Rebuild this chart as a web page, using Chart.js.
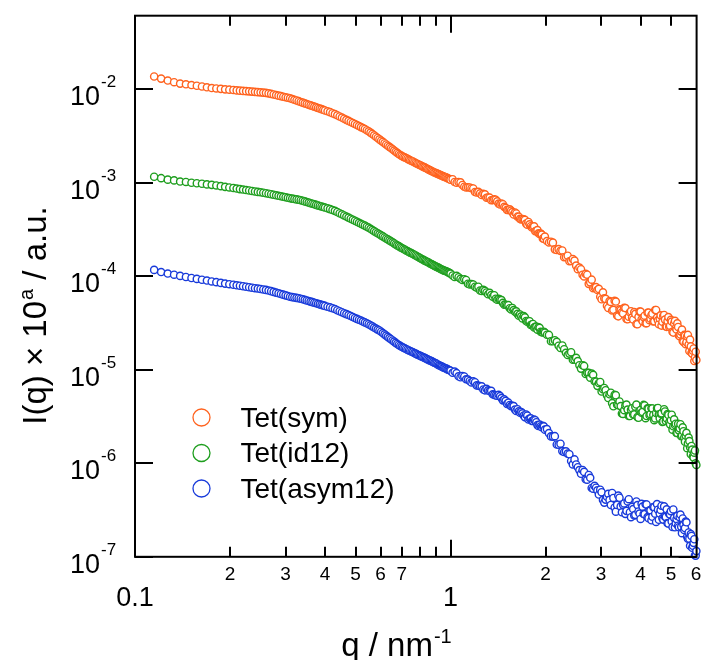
<!DOCTYPE html>
<html><head><meta charset="utf-8">
<style>html,body{margin:0;padding:0;background:#fff}canvas{display:block}</style>
<script src="https://cdn.jsdelivr.net/npm/chart.js@4.4.0/dist/chart.umd.min.js"></script>
</head><body><canvas id="c" width="702" height="660"></canvas>
<script>
// q / nm^-1 (main grid)
const q = [0.115,0.121,0.127,0.133,0.139,0.145,0.151,0.157,0.163,0.169,0.175,0.181,0.187,0.193,0.199,
0.21,0.22,0.23,0.24,0.25,0.26,0.27,0.28,0.29,0.30,0.31,0.32,0.33,0.34,0.35,0.36,0.37,0.38,0.39,0.40,
0.415,0.43,0.445,0.46,0.475,0.49,0.505,0.52,0.535,0.55,0.565,0.58,0.595,0.61,0.625,0.64,0.655,0.67,0.685,0.70,0.715,0.73,0.745,0.76,0.775,0.79,0.805,0.82,0.835,0.85,0.865,0.88,0.895,0.91,0.925,0.94,0.955,0.97,0.985,1.00,
1.03,1.06,1.09,1.12,1.15,1.18,1.21,1.24,1.27,1.30,1.33,1.36,1.39,1.42,1.45,1.48,1.51,1.54,1.57,1.60,1.63,1.66,1.69,1.72,1.75,1.78,1.81,1.84,1.87,1.90,1.93,1.96,1.99,
2.05,2.11,2.17,2.23,2.29,2.35,2.41,2.47,2.53,2.59,2.65,2.71,2.77,2.83,2.89,2.95,3.01,3.07,3.13,3.19,3.25,3.31,3.37,3.43,3.49,3.55,3.61,3.67,3.73,3.79,3.85,3.91,3.97,4.03,4.09,4.15,4.21,4.27,4.33,4.39,4.45,4.51,4.57,4.63,4.69,4.75,4.81,4.87,4.93,4.99,5.05,5.11,5.17,5.23,5.29,5.35,5.41,5.47,5.53,5.59,5.65,5.71,5.77,5.83,5.89,5.95,6.01];

const tetSym = [1.37e-2,1.30e-2,1.24e-2,1.19e-2,1.15e-2,1.13e-2,1.11e-2,1.09e-2,1.07e-2,1.05e-2,1.03e-2,1.02e-2,1.01e-2,9.98e-3,9.90e-3,
9.73e-3,9.61e-3,9.50e-3,9.38e-3,9.27e-3,9.15e-3,8.93e-3,8.67e-3,8.44e-3,8.21e-3,8.01e-3,7.72e-3,7.46e-3,7.19e-3,6.95e-3,6.73e-3,6.52e-3,6.31e-3,6.13e-3,5.93e-3,
5.69e-3,5.42e-3,5.12e-3,4.84e-3,4.59e-3,4.36e-3,4.14e-3,3.94e-3,3.76e-3,3.55e-3,3.33e-3,3.11e-3,2.91e-3,2.74e-3,2.57e-3,2.42e-3,2.28e-3,2.15e-3,2.03e-3,1.94e-3,1.87e-3,1.81e-3,1.74e-3,1.69e-3,1.63e-3,1.58e-3,1.53e-3,1.48e-3,1.44e-3,1.39e-3,1.35e-3,1.31e-3,1.28e-3,1.25e-3,1.22e-3,1.19e-3,1.16e-3,1.14e-3,1.11e-3,1.08e-3,
1.02e-3,1.02e-3,9.47e-4,8.91e-4,8.91e-4,8.69e-4,7.89e-4,7.70e-4,7.61e-4,6.91e-4,6.93e-4,6.53e-4,6.58e-4,5.99e-4,5.98e-4,5.52e-4,5.13e-4,5.19e-4,4.85e-4,4.80e-4,4.34e-4,4.11e-4,4.10e-4,4.02e-4,3.56e-4,3.59e-4,3.33e-4,3.42e-4,3.07e-4,2.88e-4,2.86e-4,2.54e-4,2.66e-4,
2.30e-4,2.29e-4,1.91e-4,1.87e-4,1.60e-4,1.66e-4,1.46e-4,1.47e-4,1.19e-4,1.19e-4,9.97e-5,1.04e-4,8.61e-5,7.46e-5,7.65e-5,7.33e-5,5.68e-5,5.80e-5,4.84e-5,5.43e-5,4.31e-5,5.47e-5,3.80e-5,4.43e-5,4.12e-5,4.60e-5,3.50e-5,3.69e-5,4.23e-5,3.45e-5,3.96e-5,3.07e-5,4.19e-5,3.47e-5,3.66e-5,3.14e-5,4.08e-5,3.39e-5,3.84e-5,3.29e-5,4.35e-5,3.61e-5,3.07e-5,3.82e-5,3.26e-5,3.86e-5,2.91e-5,3.33e-5,2.89e-5,3.42e-5,2.55e-5,3.13e-5,2.80e-5,3.14e-5,2.33e-5,2.39e-5,2.69e-5,1.99e-5,2.32e-5,1.97e-5,2.36e-5,1.59e-5,1.78e-5,1.49e-5,1.69e-5,1.36e-5,1.27e-5];

const tetId12 = [1.16e-3,1.12e-3,1.08e-3,1.06e-3,1.03e-3,1.02e-3,1.00e-3,9.88e-4,9.76e-4,9.61e-4,9.50e-4,9.36e-4,9.20e-4,9.04e-4,8.91e-4,
8.67e-4,8.46e-4,8.27e-4,8.07e-4,7.91e-4,7.74e-4,7.55e-4,7.35e-4,7.17e-4,7.00e-4,6.83e-4,6.71e-4,6.58e-4,6.42e-4,6.23e-4,6.05e-4,5.89e-4,5.72e-4,5.58e-4,5.43e-4,
5.23e-4,5.01e-4,4.73e-4,4.47e-4,4.24e-4,4.03e-4,3.83e-4,3.64e-4,3.48e-4,3.31e-4,3.13e-4,2.96e-4,2.81e-4,2.67e-4,2.54e-4,2.42e-4,2.31e-4,2.19e-4,2.10e-4,2.01e-4,1.93e-4,1.86e-4,1.79e-4,1.73e-4,1.67e-4,1.61e-4,1.55e-4,1.50e-4,1.45e-4,1.41e-4,1.36e-4,1.32e-4,1.28e-4,1.25e-4,1.21e-4,1.18e-4,1.15e-4,1.13e-4,1.10e-4,1.07e-4,
9.83e-5,9.76e-5,9.13e-5,9.13e-5,8.19e-5,8.17e-5,7.57e-5,7.05e-5,7.15e-5,6.71e-5,6.66e-5,6.05e-5,5.75e-5,5.73e-5,5.57e-5,4.97e-5,4.90e-5,4.55e-5,4.58e-5,4.18e-5,3.96e-5,3.90e-5,3.54e-5,3.64e-5,3.27e-5,3.31e-5,3.04e-5,2.83e-5,2.90e-5,2.85e-5,2.55e-5,2.51e-5,2.50e-5,
2.36e-5,2.02e-5,1.99e-5,1.71e-5,1.66e-5,1.44e-5,1.54e-5,1.29e-5,1.24e-5,1.03e-5,1.10e-5,9.27e-6,8.23e-6,8.84e-6,7.48e-6,7.22e-6,5.86e-6,6.39e-6,5.34e-6,5.47e-6,4.40e-6,5.39e-6,4.22e-6,4.58e-6,3.41e-6,3.70e-6,4.25e-6,3.20e-6,3.74e-6,3.33e-6,4.03e-6,3.12e-6,3.65e-6,3.48e-6,4.21e-6,3.04e-6,3.87e-6,3.26e-6,3.88e-6,3.29e-6,3.02e-6,3.87e-6,3.32e-6,3.39e-6,2.77e-6,3.79e-6,2.84e-6,3.36e-6,2.76e-6,2.89e-6,2.29e-6,2.95e-6,2.65e-6,2.11e-6,2.25e-6,2.62e-6,1.98e-6,2.20e-6,1.70e-6,2.12e-6,1.64e-6,1.73e-6,1.25e-6,1.40e-6,1.15e-6,1.37e-6,9.6e-7];

const tetAsym12 = [1.17e-4,1.11e-4,1.07e-4,1.04e-4,1.01e-4,9.83e-5,9.59e-5,9.38e-5,9.18e-5,9.00e-5,8.80e-5,8.65e-5,8.50e-5,8.35e-5,8.23e-5,
8.01e-5,7.82e-5,7.63e-5,7.46e-5,7.31e-5,7.15e-5,6.93e-5,6.69e-5,6.47e-5,6.25e-5,6.05e-5,5.93e-5,5.82e-5,5.68e-5,5.51e-5,5.36e-5,5.22e-5,5.08e-5,4.94e-5,4.82e-5,
4.65e-5,4.46e-5,4.23e-5,4.03e-5,3.85e-5,3.67e-5,3.50e-5,3.36e-5,3.21e-5,3.07e-5,2.91e-5,2.76e-5,2.63e-5,2.47e-5,2.32e-5,2.18e-5,2.06e-5,1.94e-5,1.84e-5,1.76e-5,1.70e-5,1.64e-5,1.59e-5,1.54e-5,1.49e-5,1.44e-5,1.40e-5,1.36e-5,1.32e-5,1.28e-5,1.25e-5,1.21e-5,1.18e-5,1.14e-5,1.11e-5,1.08e-5,1.05e-5,1.03e-5,1.00e-5,9.76e-6,
9.57e-6,8.52e-6,8.58e-6,7.91e-6,7.59e-6,7.53e-6,6.81e-6,6.68e-6,6.16e-6,6.26e-6,5.92e-6,5.47e-6,5.31e-6,5.40e-6,4.98e-6,4.82e-6,4.32e-6,4.20e-6,4.12e-6,3.75e-6,3.79e-6,3.48e-6,3.42e-6,3.12e-6,3.24e-6,3.01e-6,2.83e-6,2.93e-6,2.75e-6,2.51e-6,2.49e-6,2.51e-6,2.29e-6,
2.10e-6,1.93e-6,1.59e-6,1.62e-6,1.32e-6,1.27e-6,1.06e-6,1.10e-6,9.08e-7,7.72e-7,8.09e-7,6.68e-7,7.00e-7,5.35e-7,5.48e-7,4.63e-7,4.90e-7,3.80e-7,4.39e-7,4.06e-7,4.82e-7,3.37e-7,3.59e-7,4.28e-7,2.99e-7,3.72e-7,3.10e-7,4.13e-7,2.65e-7,3.24e-7,2.81e-7,3.57e-7,2.90e-7,3.69e-7,2.87e-7,3.64e-7,2.66e-7,3.15e-7,2.46e-7,3.40e-7,2.89e-7,3.66e-7,2.49e-7,3.17e-7,2.58e-7,3.46e-7,2.67e-7,2.29e-7,2.87e-7,3.08e-7,2.08e-7,2.61e-7,2.29e-7,2.74e-7,2.07e-7,2.83e-7,1.79e-7,2.20e-7,2.03e-7,2.34e-7,1.56e-7,1.56e-7,1.75e-7,1.25e-7,1.41e-7,1.04e-7,1.15e-7];

const qMid = [0.205,0.215,0.225,0.235,0.245,0.255,0.265,0.275,0.285,0.295,0.305,0.315,0.325,0.335,0.345,0.355,0.365,0.375,0.385,0.395,
0.4075,0.4225,0.4375,0.4525,0.4675,0.4825,0.4975,0.5125,0.5275,0.5425,0.5575,0.5725,0.5875,0.6025,0.6175,0.6325,0.6475,0.6625,0.6775,0.6925,0.7075,0.7225,0.7375,0.7525,0.7675,0.7825,0.7975,0.8125,0.8275,0.8425,0.8575,0.8725,0.8875,0.9025,0.9175,0.9325,0.9475,0.9625,0.9775,0.9925,
1.015,1.045,1.075,1.105,1.135,1.165,1.195,1.225,1.255,1.285,1.315,1.345,1.375,1.405,1.435,1.465,1.495,1.525,1.555,1.585,1.615,1.645,1.675,1.705,1.735,1.765,1.795,1.825,1.855,1.885,1.915,1.945,1.975,
2.02,2.08,2.14,2.20,2.26,2.32,2.38,2.44,2.50,2.56,2.62,2.68,2.74,2.80,2.86,2.92,2.98,3.04,3.10,3.16,3.22,3.28,3.34,3.40,3.46,3.52,3.58,3.64,3.70,3.76,3.82,3.88,3.94,4.00,4.06,4.12,4.18,4.24,4.30,4.36,4.42,4.48,4.54,4.60,4.66,4.72,4.78,4.84,4.90,4.96,5.02,5.08,5.14,5.20,5.26,5.32,5.38,5.44,5.50,5.56,5.62,5.68,5.74,5.80,5.86,5.92,5.98];

const tetSymMid = [9.82e-3,9.67e-3,9.55e-3,9.44e-3,9.32e-3,9.21e-3,9.04e-3,8.80e-3,8.55e-3,8.32e-3,8.11e-3,7.86e-3,7.59e-3,7.32e-3,7.07e-3,6.84e-3,6.62e-3,6.41e-3,6.22e-3,6.03e-3,
5.81e-3,5.55e-3,5.27e-3,4.98e-3,4.71e-3,4.47e-3,4.25e-3,4.04e-3,3.85e-3,3.65e-3,3.44e-3,3.22e-3,3.01e-3,2.82e-3,2.65e-3,2.49e-3,2.35e-3,2.21e-3,2.09e-3,1.98e-3,1.90e-3,1.84e-3,1.77e-3,1.71e-3,1.66e-3,1.60e-3,1.55e-3,1.50e-3,1.46e-3,1.41e-3,1.37e-3,1.33e-3,1.29e-3,1.26e-3,1.23e-3,1.20e-3,1.17e-3,1.15e-3,1.12e-3,1.09e-3,
1.09e-3,1.00e-3,1.01e-3,9.08e-4,8.94e-4,8.75e-4,7.97e-4,7.99e-4,7.41e-4,7.53e-4,6.96e-4,6.51e-4,6.65e-4,6.32e-4,5.86e-4,5.90e-4,5.40e-4,5.11e-4,5.04e-4,4.58e-4,4.70e-4,4.33e-4,4.06e-4,4.07e-4,3.66e-4,3.81e-4,3.43e-4,3.37e-4,3.03e-4,3.12e-4,2.83e-4,2.79e-4,2.52e-4,
2.38e-4,2.34e-4,1.94e-4,1.95e-4,1.89e-4,1.61e-4,1.45e-4,1.53e-4,1.30e-4,1.24e-4,1.04e-4,1.06e-4,8.30e-5,9.20e-5,7.59e-5,7.13e-5,6.05e-5,6.74e-5,5.73e-5,4.58e-5,5.32e-5,4.38e-5,5.37e-5,3.73e-5,4.35e-5,4.00e-5,4.57e-5,3.47e-5,4.13e-5,3.60e-5,4.14e-5,3.09e-5,3.68e-5,4.19e-5,3.30e-5,3.79e-5,3.15e-5,4.09e-5,3.52e-5,3.98e-5,3.30e-5,4.36e-5,3.38e-5,3.54e-5,2.97e-5,3.77e-5,3.44e-5,2.88e-5,3.66e-5,2.96e-5,3.28e-5,2.50e-5,3.34e-5,2.70e-5,2.87e-5,2.28e-5,2.56e-5,2.03e-5,2.36e-5,1.88e-5,2.27e-5,1.86e-5,2.10e-5,1.52e-5,1.60e-5,1.24e-5,1.56e-5];

const tetId12Mid = [8.79e-4,8.56e-4,8.36e-4,8.17e-4,7.99e-4,7.82e-4,7.64e-4,7.45e-4,7.26e-4,7.08e-4,6.91e-4,6.77e-4,6.64e-4,6.50e-4,6.32e-4,6.14e-4,5.97e-4,5.80e-4,5.65e-4,5.50e-4,
5.33e-4,5.12e-4,4.87e-4,4.60e-4,4.35e-4,4.13e-4,3.93e-4,3.73e-4,3.56e-4,3.39e-4,3.22e-4,3.04e-4,2.88e-4,2.74e-4,2.60e-4,2.48e-4,2.36e-4,2.25e-4,2.14e-4,2.05e-4,1.97e-4,1.89e-4,1.82e-4,1.76e-4,1.70e-4,1.64e-4,1.58e-4,1.52e-4,1.47e-4,1.43e-4,1.38e-4,1.34e-4,1.30e-4,1.26e-4,1.23e-4,1.19e-4,1.16e-4,1.14e-4,1.11e-4,1.08e-4,
1.02e-4,1.01e-4,9.40e-5,9.30e-5,8.32e-5,8.25e-5,7.73e-5,7.74e-5,6.95e-5,6.98e-5,6.42e-5,6.30e-5,6.27e-5,5.61e-5,5.63e-5,5.19e-5,4.96e-5,4.91e-5,4.42e-5,4.35e-5,4.21e-5,3.79e-5,3.73e-5,3.75e-5,3.33e-5,3.33e-5,3.01e-5,3.09e-5,2.88e-5,2.68e-5,2.81e-5,2.52e-5,2.55e-5,
2.37e-5,2.02e-5,2.07e-5,1.81e-5,1.82e-5,1.52e-5,1.49e-5,1.28e-5,1.34e-5,1.12e-5,1.12e-5,9.01e-6,9.27e-6,9.09e-6,7.55e-6,6.73e-6,7.40e-6,6.18e-6,6.04e-6,4.99e-6,5.68e-6,4.07e-6,5.34e-6,4.18e-6,4.09e-6,3.37e-6,4.14e-6,3.75e-6,3.20e-6,3.88e-6,3.33e-6,4.25e-6,3.07e-6,3.72e-6,3.54e-6,4.15e-6,3.20e-6,3.84e-6,3.35e-6,3.86e-6,2.89e-6,3.45e-6,3.90e-6,3.03e-6,3.43e-6,2.80e-6,3.58e-6,3.01e-6,3.29e-6,2.61e-6,3.31e-6,2.49e-6,2.57e-6,2.11e-6,2.64e-6,2.37e-6,1.95e-6,2.42e-6,1.89e-6,1.98e-6,1.45e-6,1.88e-6,1.48e-6,1.53e-6,1.19e-6,1.30e-6,1.00e-6];

const tetAsym12Mid = [8.12e-5,7.92e-5,7.73e-5,7.55e-5,7.39e-5,7.23e-5,7.04e-5,6.81e-5,6.58e-5,6.36e-5,6.15e-5,5.99e-5,5.88e-5,5.75e-5,5.60e-5,5.44e-5,5.29e-5,5.15e-5,5.01e-5,4.88e-5,
4.73e-5,4.55e-5,4.34e-5,4.13e-5,3.94e-5,3.76e-5,3.58e-5,3.43e-5,3.28e-5,3.14e-5,2.99e-5,2.83e-5,2.69e-5,2.55e-5,2.39e-5,2.25e-5,2.12e-5,2.00e-5,1.89e-5,1.80e-5,1.73e-5,1.67e-5,1.61e-5,1.56e-5,1.51e-5,1.46e-5,1.42e-5,1.38e-5,1.34e-5,1.30e-5,1.26e-5,1.23e-5,1.19e-5,1.16e-5,1.12e-5,1.09e-5,1.06e-5,1.04e-5,1.01e-5,9.88e-6,
9.28e-6,9.20e-6,8.32e-6,8.48e-6,7.86e-6,7.33e-6,7.37e-6,6.74e-6,6.66e-6,6.03e-6,6.02e-6,5.96e-6,5.40e-6,5.27e-6,5.23e-6,4.71e-6,4.65e-6,4.45e-6,4.09e-6,4.09e-6,3.63e-6,3.60e-6,3.54e-6,3.24e-6,3.33e-6,2.94e-6,3.03e-6,2.84e-6,2.89e-6,2.56e-6,2.59e-6,2.43e-6,2.48e-6,
2.32e-6,1.94e-6,1.95e-6,1.58e-6,1.35e-6,1.34e-6,1.25e-6,9.73e-7,9.71e-7,8.46e-7,8.48e-7,6.74e-7,7.50e-7,5.44e-7,5.73e-7,5.13e-7,5.22e-7,4.06e-7,4.09e-7,4.71e-7,3.58e-7,4.26e-7,3.04e-7,4.52e-7,3.46e-7,3.60e-7,2.88e-7,3.91e-7,3.00e-7,3.42e-7,2.76e-7,3.91e-7,3.05e-7,2.54e-7,3.44e-7,2.86e-7,3.63e-7,2.59e-7,3.14e-7,2.68e-7,3.39e-7,2.36e-7,3.19e-7,2.90e-7,3.52e-7,2.50e-7,2.69e-7,3.22e-7,2.27e-7,2.84e-7,2.39e-7,3.21e-7,2.07e-7,2.53e-7,2.15e-7,2.65e-7,2.09e-7,2.57e-7,1.94e-7,2.38e-7,1.65e-7,1.82e-7,1.31e-7,1.67e-7,1.31e-7,1.54e-7,1.03e-7];

const seriesLabels = ['Tet(sym)', 'Tet(id12)', 'Tet(asym12)'];
const seriesColors = ['rgb(255,98,30)', 'rgb(30,158,30)', 'rgb(24,58,218)'];

// axis ticks / labels
const yTickValues = [1e-7, 1e-6, 1e-5, 1e-4, 1e-3, 1e-2];
const yTickExponents = ['-7', '-6', '-5', '-4', '-3', '-2'];
const xMinorTicks = [0.2,0.3,0.4,0.5,0.6,0.7,0.8,0.9,2,3,4,5];
const xMajorTicks = [1];
const xSmallLabelValues = [0.2,0.3,0.4,0.5,0.6,0.7,2,3,4,5,6];
const xSmallLabelTexts = ['2','3','4','5','6','7','2','3','4','5','6'];
const xBigLabelValues = [0.1, 1];
const xBigLabelTexts = ['0.1', '1'];

const FONT = '"Liberation Sans", Arial, sans-serif';

const decor = {
  id: 'decor',
  afterDraw(chart) {
    const ctx = chart.ctx, a = chart.chartArea, xs = chart.scales.x, ys = chart.scales.y;
    ctx.save();
    ctx.strokeStyle = '#000'; ctx.lineWidth = 2; ctx.lineCap = 'butt';
    const line = (x1, y1, x2, y2) => { ctx.beginPath(); ctx.moveTo(x1, y1); ctx.lineTo(x2, y2); ctx.stroke(); };
    ctx.strokeRect(a.left, a.top, a.right - a.left, a.bottom - a.top);
    yTickValues.forEach(v => {
      const py = Math.round(ys.getPixelForValue(v));
      line(a.left, py, a.left + 18, py);
      line(a.right, py, a.right - 18, py);
    });
    xMinorTicks.forEach(v => {
      const px = Math.round(xs.getPixelForValue(v));
      line(px, a.bottom, px, a.bottom - 10);
      line(px, a.top, px, a.top + 10);
    });
    xMajorTicks.forEach(v => {
      const px = Math.round(xs.getPixelForValue(v));
      line(px, a.bottom, px, a.bottom - 17);
      line(px, a.top, px, a.top + 17);
    });
    ctx.fillStyle = '#000';
    // y tick labels 10^n
    yTickValues.forEach((v, i) => {
      const py = ys.getPixelForValue(v);
      ctx.font = '27px ' + FONT; ctx.textAlign = 'right'; ctx.textBaseline = 'alphabetic';
      ctx.fillText('10', 100, py + 16);
      ctx.font = '17px ' + FONT; ctx.textAlign = 'left';
      ctx.fillText(yTickExponents[i], 101, py - 2);
    });
    // x tick labels
    ctx.textAlign = 'center';
    ctx.font = '19px ' + FONT;
    xSmallLabelValues.forEach((v, i) => {
      ctx.fillText(xSmallLabelTexts[i], xs.getPixelForValue(v), 580);
    });
    ctx.font = '27px ' + FONT;
    xBigLabelValues.forEach((v, i) => {
      ctx.fillText(xBigLabelTexts[i], xs.getPixelForValue(v), 606);
    });
    // x title
    ctx.textAlign = 'left';
    ctx.font = '33px ' + FONT;
    const t1 = 'q / nm';
    const w1 = ctx.measureText(t1).width;
    ctx.font = '20px ' + FONT;
    const w2 = ctx.measureText('-1').width;
    const sx = 396 - (w1 + w2) / 2;
    ctx.font = '33px ' + FONT; ctx.fillText(t1, sx, 656);
    ctx.font = '20px ' + FONT; ctx.fillText('-1', sx + w1 + 1, 643);
    // y title (rotated)
    ctx.save();
    ctx.translate(46, 316);
    ctx.rotate(-Math.PI / 2);
    ctx.font = '33px ' + FONT;
    const p1 = 'I(q) \u00D7 10', p3 = ' / a.u.';
    const wp1 = ctx.measureText(p1).width, wp3 = ctx.measureText(p3).width;
    ctx.font = '20px ' + FONT;
    const wp2 = ctx.measureText('a').width;
    const tx = -(wp1 + wp2 + wp3) / 2;
    ctx.font = '33px ' + FONT; ctx.fillText(p1, tx, 0);
    ctx.font = '20px ' + FONT; ctx.fillText('a', tx + wp1 + 1, -13);
    ctx.font = '33px ' + FONT; ctx.fillText(p3, tx + wp1 + wp2 + 1, 0);
    ctx.restore();
    // legend
    chart.data.datasets.forEach((ds, i) => {
      const cy = 417.5 + i * 35.5;
      ctx.beginPath(); ctx.arc(201.5, cy, 8.5, 0, Math.PI * 2);
      ctx.fillStyle = '#fff'; ctx.fill();
      ctx.lineWidth = 1.3; ctx.strokeStyle = ds.borderColor; ctx.stroke();
      ctx.fillStyle = '#000'; ctx.font = '28px ' + FONT; ctx.textAlign = 'left';
      ctx.fillText(ds.label, 240.5, cy + 9);
    });
    ctx.restore();
  }
};

const seriesValues = [tetSym, tetId12, tetAsym12];
const seriesMidValues = [tetSymMid, tetId12Mid, tetAsym12Mid];
new Chart(document.getElementById('c'), {
  type: 'scatter',
  data: {
    datasets: seriesValues.map((vals, k) => ({
      label: seriesLabels[k],
      data: q.map((x, i) => ({ x: x, y: vals[i] }))
        .concat(qMid.map((x, i) => ({ x: x, y: seriesMidValues[k][i] })))
        .sort((m, n) => m.x - n.x),
      borderColor: seriesColors[k],
      backgroundColor: '#fff',
      pointRadius: 3.6,
      pointBorderWidth: 1.4,
      showLine: false,
      clip: false
    }))
  },
  options: {
    responsive: false,
    devicePixelRatio: 1,
    animation: false,
    layout: { padding: { left: 135, right: 5.3, top: 15.7, bottom: 103.2 } },
    plugins: { legend: { display: false }, tooltip: { enabled: false } },
    scales: {
      x: { type: 'logarithmic', min: 0.1, max: 6.02, display: false },
      y: { type: 'logarithmic', min: 1e-7, max: 0.0612, display: false }
    }
  },
  plugins: [decor]
});
</script>
</body></html>
